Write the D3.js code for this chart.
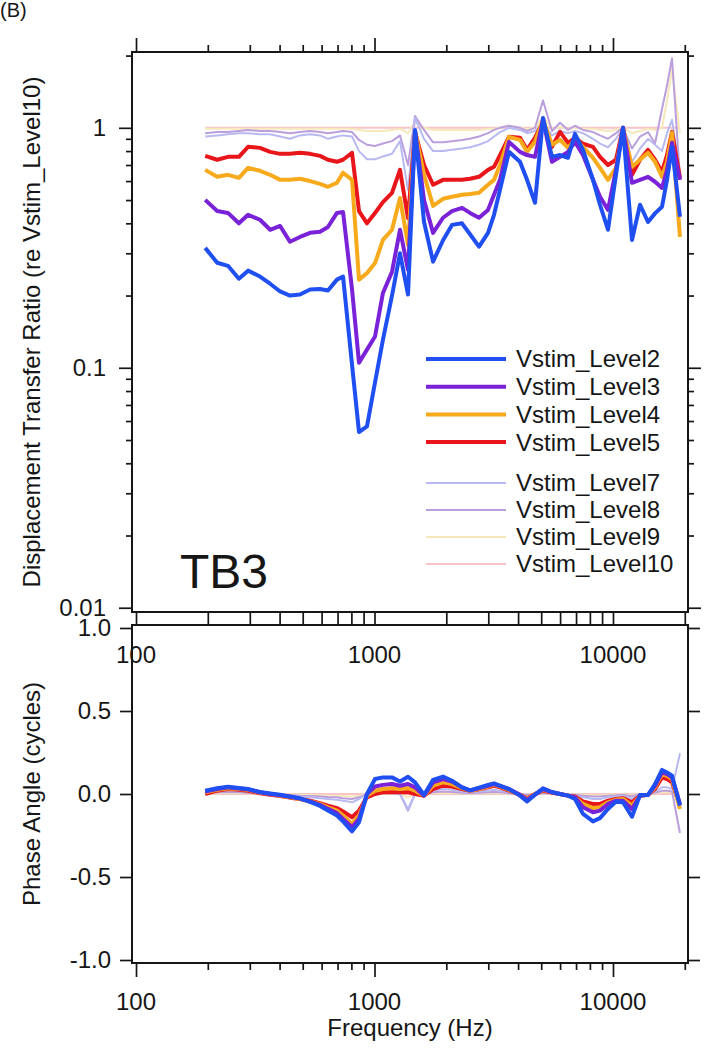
<!DOCTYPE html>
<html><head><meta charset="utf-8">
<script src="https://cdn.jsdelivr.net/npm/d3@7"></script>
<style>
body{margin:0;background:#fff}
svg{display:block}
text{font-family:"Liberation Sans",Arial,sans-serif;fill:#161616}
</style>
</head><body>
<svg id="chart" width="715" height="1050"></svg>
<script>
// ---------------- DATA ----------------
const freqs = [195,219,243,270,295,331,365,402,442,487,537,591,638,696,738,805,861,930,1005,1085,1184,1279,1382,1479,1613,1760,1938,2113,2328,2515,2743,2992,3170,3359,3664,4074,4361,4710,5088,5549,5996,6477,6929,7485,8245,8821,9528,10294,11013,12013,12982,14025,15004,16055,16846,17680,19093];

const seriesNames = ["Vstim_Level2","Vstim_Level3","Vstim_Level4","Vstim_Level5","Vstim_Level7","Vstim_Level8","Vstim_Level9","Vstim_Level10"];

// Displacement transfer ratio (re Vstim_Level10)
const magLevel2 = [0.316,0.274,0.266,0.235,0.254,0.24,0.224,0.208,0.20,0.202,
0.212,0.213,0.21,0.233,0.24,0.103,0.054,0.057,0.087,0.131,
0.20,0.30,0.202,0.98,0.405,0.277,0.34,0.394,0.40,0.36,
0.32,0.365,0.434,0.552,0.794,0.722,0.607,0.487,1.10,0.757,
0.77,0.75,0.944,0.81,0.607,0.478,0.376,0.637,1.0,0.341,
0.478,0.405,0.44,0.469,0.607,0.833,0.426];
const magLevel3 = [0.501,0.45,0.442,0.40,0.434,0.414,0.376,0.39,0.335,0.351,
0.365,0.369,0.386,0.442,0.446,0.212,0.105,0.119,0.135,0.205,
0.251,0.376,0.256,0.97,0.50,0.365,0.422,0.45,0.464,0.442,
0.422,0.455,0.526,0.607,0.874,0.794,0.77,0.757,1.08,0.722,
0.757,0.794,0.874,0.77,0.607,0.516,0.455,0.668,1.0,0.59,
0.607,0.625,0.596,0.562,0.668,0.866,0.607];
const magLevel4 = [0.668,0.625,0.637,0.619,0.681,0.662,0.637,0.607,0.607,0.613,
0.60,0.584,0.568,0.59,0.65,0.607,0.233,0.248,0.273,0.341,
0.376,0.51,0.325,0.97,0.637,0.473,0.506,0.516,0.526,0.53,
0.536,0.579,0.607,0.70,0.917,0.891,0.794,0.875,1.08,0.85,
0.891,0.825,0.891,0.833,0.75,0.681,0.607,0.681,1.0,0.688,
0.736,0.787,0.722,0.625,0.722,0.953,0.351];
const magLevel5 = [0.764,0.736,0.757,0.757,0.833,0.825,0.794,0.779,0.779,0.787,
0.779,0.764,0.736,0.722,0.736,0.787,0.45,0.40,0.442,0.49,
0.536,0.668,0.42,0.96,0.70,0.579,0.607,0.607,0.607,0.613,
0.625,0.668,0.688,0.77,0.917,0.909,0.81,0.909,1.059,0.833,
0.962,0.866,0.909,0.858,0.833,0.757,0.70,0.736,1.0,0.637,
0.736,0.81,0.736,0.655,0.77,0.962,0.619];
const magLevel7 = [0.92,0.93,0.94,0.95,0.95,0.94,0.94,0.92,0.90,0.93,
0.94,0.93,0.90,0.92,0.93,0.92,0.80,0.74,0.74,0.76,
0.78,0.88,0.55,1.10,0.90,0.80,0.80,0.81,0.82,0.83,
0.85,0.88,0.92,0.96,1.0,0.98,0.95,0.97,1.05,0.93,
0.97,0.95,0.97,0.95,0.90,0.86,0.83,0.90,1.0,0.72,
0.82,0.90,0.85,0.80,0.95,1.08,0.65];
const magLevel8 = [0.95,0.96,0.96,0.97,0.98,0.97,0.97,0.96,0.95,0.96,
0.97,0.96,0.95,0.96,0.97,0.96,0.89,0.85,0.84,0.86,
0.88,0.93,0.70,1.12,0.98,0.87,0.87,0.88,0.89,0.90,
0.92,0.95,0.98,1.0,1.02,1.0,0.97,1.0,1.30,0.97,
1.05,0.98,1.02,0.98,0.96,0.93,0.90,0.95,1.0,0.82,
0.92,0.96,0.86,1.2,1.5,1.95,0.62];
const magLevel9 = [0.99,0.99,0.99,0.99,0.99,0.99,0.99,0.99,0.99,0.99,
0.99,0.99,0.99,0.99,0.99,0.99,0.98,0.97,0.97,0.97,
0.98,0.99,0.95,1.06,1.0,0.98,0.98,0.98,0.98,0.98,
0.98,0.99,0.99,1.0,1.02,1.0,0.99,1.0,1.12,0.99,
1.01,0.99,1.0,0.99,0.99,0.98,0.97,0.98,1.0,0.95,
0.97,0.99,0.98,1.0,1.3,1.75,0.95];
const magLevel10 = [1,1,1,1,1,1,1,1,1,1,
1,1,1,1,1,1,1,1,1,1,
1,1,1,1,1,1,1,1,1,1,
1,1,1,1,1,1,1,1,1,1,
1,1,1,1,1,1,1,1,1,1,
1,1,1,1,1,1,1];

// Phase angle (cycles)
const phaseLevel2 = [0.02,0.035,0.044,0.036,0.03,0.012,0.003,-0.005,-0.015,-0.026,
-0.048,-0.072,-0.1,-0.13,-0.165,-0.225,-0.17,0.0,0.09,0.1,
0.1,0.075,0.104,0.07,-0.006,0.085,0.105,0.08,0.04,0.022,
0.038,0.055,0.064,0.05,0.03,-0.01,-0.045,-0.005,0.034,0.012,
0.0,-0.01,-0.03,-0.12,-0.165,-0.145,-0.09,-0.046,-0.05,-0.137,
-0.006,-0.006,0.06,0.145,0.13,0.11,-0.07];
const phaseLevel3 = [0.015,0.03,0.04,0.033,0.028,0.01,0.0,-0.008,-0.017,-0.028,
-0.045,-0.065,-0.09,-0.115,-0.15,-0.2,-0.15,0.0,0.045,0.055,
0.06,0.05,0.06,0.04,-0.01,0.07,0.09,0.075,0.04,0.022,
0.035,0.05,0.06,0.048,0.03,-0.005,-0.035,-0.003,0.03,0.01,
0.0,-0.01,-0.02,-0.08,-0.11,-0.1,-0.06,-0.04,-0.04,-0.09,
-0.01,-0.005,0.05,0.13,0.12,0.1,-0.06];
const phaseLevel4 = [0.01,0.025,0.035,0.03,0.025,0.008,0.0,-0.01,-0.02,-0.03,
-0.045,-0.06,-0.08,-0.1,-0.13,-0.18,-0.13,-0.01,0.02,0.03,
0.035,0.03,0.035,0.02,-0.01,0.05,0.07,0.06,0.035,0.02,
0.03,0.045,0.055,0.045,0.025,-0.005,-0.03,0.0,0.025,0.01,
0.0,-0.01,-0.02,-0.06,-0.085,-0.08,-0.05,-0.035,-0.03,-0.07,
-0.01,-0.005,0.04,0.12,0.11,0.09,-0.09];
const phaseLevel5 = [0.0,0.02,0.03,0.025,0.02,0.005,-0.005,-0.012,-0.022,-0.03,
-0.04,-0.055,-0.07,-0.085,-0.105,-0.14,-0.1,-0.02,0.0,0.01,
0.012,0.01,0.012,0.0,-0.01,0.03,0.05,0.045,0.03,0.02,
0.028,0.04,0.05,0.04,0.02,-0.005,-0.025,0.0,0.02,0.008,
0.0,-0.01,-0.015,-0.045,-0.06,-0.06,-0.04,-0.03,-0.025,-0.05,
-0.01,-0.005,0.03,0.1,0.09,0.07,-0.07];
const phaseLevel7 = [0.01,0.015,0.02,0.018,0.015,0.005,0.0,-0.005,-0.01,-0.015,
-0.02,-0.025,-0.03,-0.035,-0.04,-0.05,-0.03,0.0,0.01,0.01,
0.01,0.0,-0.09,0.0,-0.005,0.02,0.03,0.025,0.015,0.01,
0.015,0.02,0.025,0.02,0.01,0.0,-0.01,0.0,0.01,0.005,
0.0,-0.005,-0.01,-0.02,-0.03,-0.03,-0.02,-0.015,-0.01,-0.03,
0.0,0.0,0.015,0.04,0.04,0.03,0.245];
const phaseLevel8 = [0.005,0.01,0.012,0.01,0.008,0.003,0.0,-0.003,-0.006,-0.01,
-0.012,-0.015,-0.018,-0.02,-0.025,-0.03,-0.02,0.0,0.005,0.005,
0.005,0.0,-0.1,0.0,-0.003,0.01,0.015,0.012,0.008,0.005,
0.008,0.01,0.012,0.01,0.005,0.0,-0.005,0.0,0.005,0.003,
0.0,-0.003,-0.005,-0.01,-0.015,-0.015,-0.01,-0.008,-0.005,-0.015,
0.0,0.0,0.008,0.02,0.02,0.015,-0.235];
const phaseLevel9 = [0.003,0.005,0.006,0.005,0.004,0.002,0.0,-0.002,-0.003,-0.005,
-0.006,-0.008,-0.009,-0.01,-0.012,-0.015,-0.01,0.0,0.002,0.002,
0.002,0.0,-0.02,0.0,-0.002,0.005,0.008,0.006,0.004,0.003,
0.004,0.005,0.006,0.005,0.003,0.0,-0.003,0.0,0.003,0.002,
0.0,-0.002,-0.003,-0.005,-0.008,-0.008,-0.005,-0.004,-0.003,-0.008,
0.0,0.0,0.004,0.01,0.01,0.008,0.0];
const phaseLevel10 = [0,0,0,0,0,0,0,0,0,0,
0,0,0,0,0,0,0,0,0,0,
0,0,0,0,0,0,0,0,0,0,
0,0,0,0,0,0,0,0,0,0,
0,0,0,0,0,0,0,0,0,0,
0,0,0,0,0,0,0];

const xMajorTicks = [100,1000,10000];
const xMinorTicks = [200,300,400,500,600,700,800,900,2000,3000,4000,5000,6000,7000,8000,9000,20000];
const xTickLabels = ["100","1000","10000"];
const magMajorTicks = [0.01,0.1,1];
const magMinorTicks = [0.02,0.03,0.04,0.05,0.06,0.07,0.08,0.09,0.2,0.3,0.4,0.5,0.6,0.7,0.8,0.9,2];
const magTickLabels = ["0.01","0.1","1"];
const phaseTicks = [-1,-0.5,0,0.5,1];
const phaseTickLabels = ["-1.0","-0.5","0.0","0.5","1.0"];

// ---------------- STYLES ----------------
const magData = [magLevel2,magLevel3,magLevel4,magLevel5,magLevel7,magLevel8,magLevel9,magLevel10];
const phaseData = [phaseLevel2,phaseLevel3,phaseLevel4,phaseLevel5,phaseLevel7,phaseLevel8,phaseLevel9,phaseLevel10];
const colors = ["#1f4ff0","#7a22d8","#f6aa1c","#e8161b","#b9b9f2","#bb9fdc","#f7e7bb","#f7c3c8"];
const widths = [4,4,4,4,2,2,2,2];
const drawOrder = [7,6,5,4,3,2,1,0];

const svg = d3.select("#chart");
const L = 132, R = 688, T1 = 52, B1 = 612, T2 = 625, B2 = 963;

const x = d3.scaleLog().domain([96.2, 20630]).range([L, R]);
const yM = d3.scaleLog().domain([0.0096, 2.07]).range([B1, T1]);
const yP = d3.scaleLinear().domain([-1.018, 1.018]).range([B2, T2]);

const defs = svg.append("defs");
defs.append("clipPath").attr("id","clipTop").append("rect").attr("x",L).attr("y",T1).attr("width",R-L).attr("height",B1-T1);
defs.append("clipPath").attr("id","clipBot").append("rect").attr("x",L).attr("y",T2).attr("width",R-L).attr("height",B2-T2);

// lines
const lineM = d3.line().x((d,i)=>x(freqs[i])).y(d=>yM(d)).curve(d3.curveLinear);
const lineP = d3.line().x((d,i)=>x(freqs[i])).y(d=>yP(d)).curve(d3.curveLinear);
const gTop = svg.append("g").attr("clip-path","url(#clipTop)");
const gBot = svg.append("g").attr("clip-path","url(#clipBot)");
drawOrder.forEach(k=>{
  gTop.append("path").attr("d",lineM(magData[k])).attr("fill","none")
    .attr("stroke",colors[k]).attr("stroke-width",widths[k]).attr("stroke-linejoin","round");
  gBot.append("path").attr("d",lineP(phaseData[k])).attr("fill","none")
    .attr("stroke",colors[k]).attr("stroke-width",widths[k]).attr("stroke-linejoin","round");
});

// axes helpers
function tickGroup(tx, ty, axis){
  const g = svg.append("g").attr("transform",`translate(${tx},${ty})`).call(axis);
  g.select(".domain").remove();
  g.selectAll(".tick text").remove();
  g.selectAll(".tick line").attr("stroke","#161616").attr("stroke-width",1.7);
  return g;
}
// top axis of upper panel
tickGroup(0,T1,d3.axisTop(x).tickValues(xMajorTicks).tickSize(14));
tickGroup(0,T1,d3.axisTop(x).tickValues(xMinorTicks).tickSize(7));
// between panels
tickGroup(0,B1,d3.axisBottom(x).tickValues(xMajorTicks.concat(xMinorTicks)).tickSize(T2-B1));
// bottom axis
tickGroup(0,B2,d3.axisBottom(x).tickValues(xMajorTicks).tickSize(14));
tickGroup(0,B2,d3.axisBottom(x).tickValues(xMinorTicks).tickSize(7));
// upper y axes
tickGroup(L,0,d3.axisLeft(yM).tickValues(magMajorTicks).tickSize(13));
tickGroup(L,0,d3.axisLeft(yM).tickValues(magMinorTicks).tickSize(6));
tickGroup(R,0,d3.axisRight(yM).tickValues(magMajorTicks).tickSize(13));
tickGroup(R,0,d3.axisRight(yM).tickValues(magMinorTicks).tickSize(6));
// lower y axes
tickGroup(L,0,d3.axisLeft(yP).tickValues(phaseTicks).tickSize(12));
tickGroup(R,0,d3.axisRight(yP).tickValues(phaseTicks).tickSize(12));

// frames
[[T1,B1],[T2,B2]].forEach(([t,b])=>{
  svg.append("rect").attr("x",L).attr("y",t).attr("width",R-L).attr("height",b-t)
    .attr("fill","none").attr("stroke","#161616").attr("stroke-width",2);
});

// tick labels
magMajorTicks.forEach((v,i)=>{
  svg.append("text").attr("x",106).attr("y",yM(v)).attr("dy","0.35em")
    .attr("text-anchor","end").attr("font-size",24).text(magTickLabels[i]);
});
phaseTicks.forEach((v,i)=>{
  svg.append("text").attr("x",111).attr("y",yP(v)).attr("dy","0.35em")
    .attr("text-anchor","end").attr("font-size",24).text(phaseTickLabels[i]);
});
xMajorTicks.forEach((v,i)=>{
  svg.append("text").attr("x",x(v)).attr("y",663).attr("text-anchor","middle")
    .attr("font-size",24).text(xTickLabels[i]);
  svg.append("text").attr("x",x(v)).attr("y",1010).attr("text-anchor","middle")
    .attr("font-size",24).text(xTickLabels[i]);
});

// axis titles
svg.append("text").attr("transform",`translate(40,${(T1+B1)/2}) rotate(-90)`)
  .attr("text-anchor","middle").attr("font-size",24)
  .text("Displacement Transfer Ratio (re Vstim_Level10)");
svg.append("text").attr("transform",`translate(40,${(T2+B2)/2}) rotate(-90)`)
  .attr("text-anchor","middle").attr("font-size",24)
  .text("Phase Angle (cycles)");
svg.append("text").attr("x",(L+R)/2).attr("y",1036).attr("text-anchor","middle")
  .attr("font-size",24).text("Frequency (Hz)");

// panel label & TB3
svg.append("text").attr("x",0).attr("y",17).attr("font-size",20).text("(B)");
svg.append("text").attr("x",180).attr("y",588).attr("font-size",48).text("TB3");

// legend
const legend = svg.append("g");
seriesNames.forEach((name,i)=>{
  const ly = i < 4 ? 359 + i*27.7 : 483 + (i-4)*27;
  legend.append("line").attr("x1",426).attr("x2",506).attr("y1",ly).attr("y2",ly)
    .attr("stroke",colors[i]).attr("stroke-width",widths[i]);
  legend.append("text").attr("x",516).attr("y",ly).attr("dy","0.35em")
    .attr("font-size",24).text(name);
});
</script>
</body></html>
